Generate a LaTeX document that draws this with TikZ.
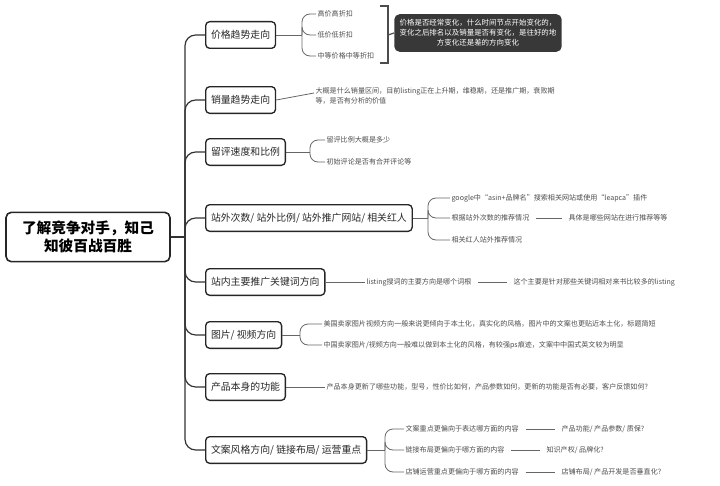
\documentclass[tikz,border=0pt]{standalone}
\usepackage{fontspec}
\setmainfont{Noto Sans CJK SC}
\begin{document}
\begin{tikzpicture}[x=0.75pt,y=-0.75pt,
  mainbox/.style={draw=black!85,line width=1pt,rounded corners=3pt,anchor=west,font=\fontsize{7.4}{9}\selectfont,text=black!85,inner sep=4pt,minimum height=20pt},
  leaf/.style={anchor=west,font=\fontsize{5.3}{7}\selectfont,text=black!70,inner sep=1pt,align=left},
  conn/.style={draw=black!60,line width=0.6pt,rounded corners=6pt},
  trunk/.style={draw=black!80,line width=0.9pt,rounded corners=8pt}]
\useasboundingbox (0,0) rectangle (720,485);
\node[draw=black!85,line width=1.2pt,rounded corners=4pt,minimum width=123pt,minimum height=37pt,align=center,font=\fontsize{11}{14}\selectfont\bfseries] (root) at (88,237) {了解竞争对手，知己\\知彼百战百胜};
\coordinate (hub) at (185,237);
\node[mainbox] (m1) at (205,35) {价格趋势走向};
\node[mainbox] (m2) at (205,100) {销量趋势走向};
\node[mainbox] (m3) at (205,152) {留评速度和比例};
\node[mainbox] (m4) at (205,218) {站外次数/ 站外比例/ 站外推广网站/ 相关红人};
\node[mainbox] (m5) at (205,282) {站内主要推广关键词方向};
\node[mainbox] (m6) at (205,335) {图片/ 视频方向};
\node[mainbox] (m7) at (205,387) {产品本身的功能};
\node[mainbox] (m8) at (205,450) {文案风格方向/ 链接布局/ 运营重点};
\draw[trunk] (root.east) -- (hub);
\foreach \m in {m1,m2,m3,m4,m5,m6,m7,m8} \draw[trunk] (hub) |- (\m.west);
% 1
\node[leaf] (a1) at (316,14) {高价高折扣};
\node[leaf] (a2) at (316,35) {低价低折扣};
\node[leaf] (a3) at (316,56) {中等价格中等折扣};
\coordinate (s1) at (302,35);
\draw[conn] (m1.east) -- (s1);
\foreach \c in {a1,a2,a3} \draw[conn] (s1) |- (\c.west);
\draw[black!70,line width=0.9pt] (380,6) -- (388,6) -- (388,63) -- (380,63);
\node[fill=black!78,rounded corners=4pt,text=white,align=center,font=\fontsize{5.6}{7.5}\selectfont,inner sep=4pt] (note) at (478,33) {价格是否经常变化，什么时间节点开始变化的，\\变化之后排名以及销量是否有变化，是往好的地\\方变化还是差的方向变化};
\draw[black!70,line width=0.9pt] (388,35) -- (note.west);
% 2
\node[leaf] (b1) at (314,96) {大概是什么销量区间，目前listing正在上升期，维稳期，还是推广期，衰败期\\等，是否有分析的价值};
\draw[conn] (m2.east) -- (b1.west|-0,93);
% 3
\node[leaf] (c1) at (325,140) {留评比例大概是多少};
\node[leaf] (c2) at (325,162) {初始评论是否有合并评论等};
\coordinate (s3) at (310,152);
\draw[conn] (m3.east) -- (s3);
\foreach \c in {c1,c2} \draw[conn] (s3) |- (\c.west);
% 4
\node[leaf] (d1) at (450,198) {google中“asin+品牌名”搜索相关网站或使用“leapca”插件};
\node[leaf] (d2) at (450,218) {根据站外次数的推荐情况};
\node[leaf] (d3) at (450,240) {相关红人站外推荐情况};
\node[leaf] (d4) at (567,218) {具体是哪些网站在进行推荐等等};
\coordinate (s4) at (428,218);
\draw[conn] (m4.east) -- (s4);
\foreach \c in {d1,d2,d3} \draw[conn] (s4) |- (\c.west);
\draw[conn] ([xshift=4pt]d2.east) -- ([xshift=-4pt]d4.west);
% 5
\node[leaf] (e1) at (365,282) {listing搜词的主要方向是哪个词根};
\node[leaf] (e2) at (512,282) {这个主要是针对那些关键词相对来书比较多的listing};
\draw[conn] (m5.east) -- (e1.west);
\draw[conn] ([xshift=4pt]e1.east) -- ([xshift=-4pt]e2.west);
% 6
\node[leaf] (f1) at (322,324) {美国卖家图片视频方向一般来说更倾向于本土化，真实化的风格，图片中的文案也更贴近本土化，标题简短};
\node[leaf] (f2) at (322,345) {中国卖家图片/视频方向一般难以做到本土化的风格，有较强ps痕迹，文案中中国式英文较为明显};
\coordinate (s6) at (300,335);
\draw[conn] (m6.east) -- (s6);
\foreach \c in {f1,f2} \draw[conn] (s6) |- (\c.west);
% 7
\node[leaf] (g1) at (325,387) {产品本身更新了哪些功能，型号，性价比如何，产品参数如何，更新的功能是否有必要，客户反馈如何?};
\draw[conn] (m7.east) -- (g1.west);
% 8
\node[leaf] (h1) at (404,429) {文案重点更偏向于表达哪方面的内容};
\node[leaf] (h2) at (404,450) {链接布局更偏向于哪方面的内容};
\node[leaf] (h3) at (404,472) {店铺运营重点更偏向于哪方面的内容};
\node[leaf] (i1) at (560,429) {产品功能/ 产品参数/ 质保?};
\node[leaf] (i2) at (545,450) {知识产权/ 品牌化?};
\node[leaf] (i3) at (560,472) {店铺布局/ 产品开发是否垂直化?};
\coordinate (s8) at (385,450);
\draw[conn] (m8.east) -- (s8);
\foreach \c in {h1,h2,h3} \draw[conn] (s8) |- (\c.west);
\foreach \a/\b in {h1/i1,h2/i2,h3/i3} \draw[conn] ([xshift=4pt]\a.east) -- ([xshift=-4pt]\b.west);
\end{tikzpicture}
\end{document}
